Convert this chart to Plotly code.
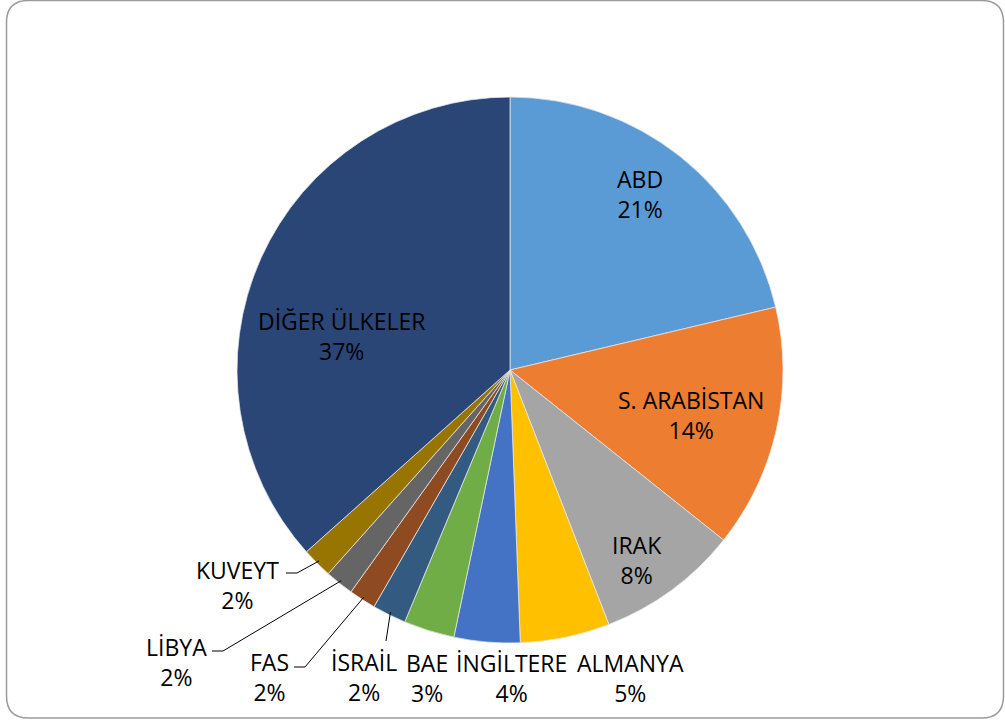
""" Export share pie chart """

import math

from plotly import graph_objects as go

W, H = 1005, 722

countries = [
    "ABD", "S. ARABİSTAN", "IRAK", "ALMANYA", "İNGİLTERE", "BAE",
    "İSRAİL", "FAS", "LİBYA", "KUVEYT", "DİĞER ÜLKELER",
]
shares = [21.3, 14.4, 8.4, 5.3, 3.9, 3.0, 2.0, 1.6, 1.7, 1.8, 36.6]
colors = [
    "#5B9BD5", "#ED7D31", "#A5A5A5", "#FFC000", "#4472C4", "#70AD47",
    "#335B82", "#8E4B22", "#656565", "#987401", "#294677",
]

# pie geometry in pixels
CX, CY, R = 510, 370, 273

# label block centres (pixels) and optional leader elbow
label_pos = {
    "ABD": (640, 194),
    "S. ARABİSTAN": (691, 415),
    "IRAK": (637, 560),
    "ALMANYA": (630, 678),
    "İNGİLTERE": (511, 678),
    "BAE": (427, 678),
    "İSRAİL": (364, 677),
    "FAS": (269, 677),
    "LİBYA": (176, 662),
    "KUVEYT": (237, 585),
    "DİĞER ÜLKELER": (341, 336),
}
leaders = {
    "KUVEYT": [(286, 573), (297, 573)],
    "LİBYA": [(212, 651), (223, 651)],
    "FAS": [(294, 667), (305, 667)],
    "İSRAİL": [(386, 641)],
}


def fx(px):
    return px / W


def fy(py):
    return 1 - py / H


fig = go.Figure(
    go.Pie(
        labels=countries,
        values=shares,
        sort=False,
        direction="clockwise",
        rotation=0,
        marker=dict(colors=colors, line=dict(color="#E8E8E8", width=0.75)),
        textinfo="none",
        hoverinfo="label+percent",
        domain=dict(x=[fx(CX - R), fx(CX + R)], y=[fy(CY + R), fy(CY - R)]),
        showlegend=False,
    )
)

total = sum(shares)
annotations = []
shapes = []
cum = 0.0
for name, v in zip(countries, shares):
    mid = (cum + v / 2) / total * 2 * math.pi
    cum += v
    pct = f"{v / total * 100:.0f}%"
    lx, ly = label_pos[name]
    annotations.append(
        dict(
            x=fx(lx), y=fy(ly), xref="paper", yref="paper",
            text=f"{name}<br>{pct}", showarrow=False,
            xanchor="center", yanchor="middle", align="center",
            font=dict(family="Open Sans", size=23, color="#000000"),
        )
    )
    if name in leaders:
        ex = CX + (R - 3) * math.sin(mid)
        ey = CY - (R - 3) * math.cos(mid)
        pts = [(ex, ey)] + leaders[name][::-1]
        path = "M " + " L ".join(f"{fx(px)},{fy(py)}" for px, py in pts)
        shapes.append(
            dict(type="path", path=path, xref="paper", yref="paper",
                 line=dict(color="#000000", width=1))
        )

# rounded chart border
x0, x1, y0, y1, rr = fx(6.5), fx(1003.5), fy(0.5), fy(718), 22
rx, ry = rr / W, rr / H
border = (
    f"M {x0 + rx},{y0} L {x1 - rx},{y0} Q {x1},{y0} {x1},{y0 - ry} "
    f"L {x1},{y1 + ry} Q {x1},{y1} {x1 - rx},{y1} "
    f"L {x0 + rx},{y1} Q {x0},{y1} {x0},{y1 + ry} "
    f"L {x0},{y0 - ry} Q {x0},{y0} {x0 + rx},{y0} Z"
)
shapes.append(
    dict(type="path", path=border, xref="paper", yref="paper",
         line=dict(color="#9A9A9A", width=1.5), layer="below")
)

fig.update_layout(
    width=W,
    height=H,
    margin={"r": 0, "t": 0, "l": 0, "b": 0},
    paper_bgcolor="white",
    plot_bgcolor="white",
    annotations=annotations,
    shapes=shapes,
)

fig.write_html(
    "out.html",
    config={"displayModeBar": False},
    post_script="document.body.style.margin='0';document.body.style.overflow='hidden';",
)
